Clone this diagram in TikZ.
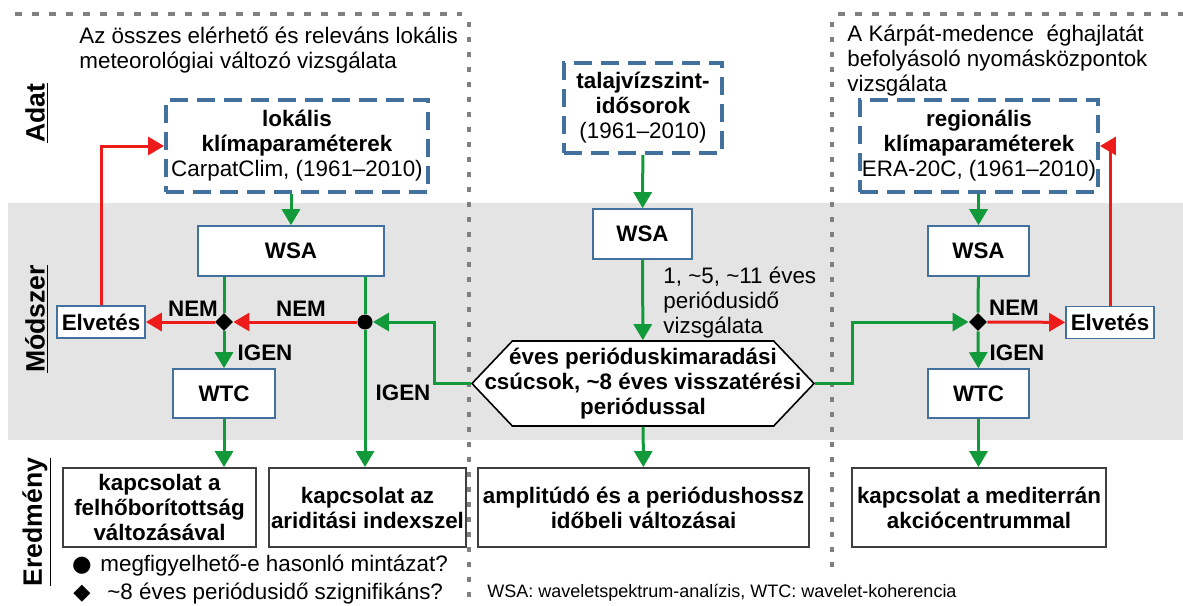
\documentclass[tikz,border=0pt]{standalone}
\usepackage{fontspec}
\setmainfont{Liberation Sans}
\newfontfamily\symfont{DejaVu Sans}
\usetikzlibrary{arrows.meta,positioning,calc,shapes.geometric,shapes.symbols}
\definecolor{steel}{HTML}{41719C}
\definecolor{leafgreen}{HTML}{129A3A}
\definecolor{alarmred}{HTML}{EE1B1B}
\definecolor{bandgrey}{HTML}{E4E4E4}
\definecolor{dotgrey}{HTML}{808080}
\definecolor{inkgrey}{HTML}{3F3F3F}

\begin{document}
\begin{tikzpicture}[x=0.5pt, y=-0.5pt,
  font=\fontsize{11.2}{12.5}\selectfont,
  databox/.style={draw=steel, line width=1.9pt, dash pattern=on 9pt off 4.5pt, fill=white, align=center, inner sep=0pt},
  wsabox/.style={draw=steel, line width=0.8pt, fill=white, font=\fontsize{11.2}{12.5}\selectfont\bfseries, inner sep=0pt},
  rejbox/.style={draw=steel, line width=0.8pt, fill=white, font=\fontsize{11.2}{12.5}\selectfont\bfseries, inner sep=0pt, minimum width=44pt, minimum height=16pt},
  resbox/.style={draw=inkgrey, line width=0.9pt, fill=white, align=center, font=\fontsize{11.2}{12.5}\selectfont\bfseries, inner sep=0pt, minimum height=39.5pt},
  hexa/.style={signal, signal to=west and east, signal pointer angle=93, draw=black, line width=0.8pt, fill=white, minimum width=171pt, minimum height=42.5pt, inner sep=0pt},
  yesno/.style={diamond, fill=black, minimum size=9pt, inner sep=0pt},
  dot/.style={circle, fill=black, minimum size=7.5pt, inner sep=0pt},
  lbl/.style={font=\fontsize{11.2}{12.5}\selectfont\bfseries, inner sep=0pt},
  side/.style={rotate=90, font=\fontsize{13.3}{14}\selectfont\bfseries, inner sep=0pt},
  plain/.style={align=left, inner sep=0pt, anchor=north west},
  divider/.style={dotgrey, line width=1.6pt, dash pattern=on 2.5pt off 5pt},
  gline/.style={leafgreen, line width=1.5pt},
  garr/.style={gline, -{Triangle[length=8pt,width=9pt]}},
  rarr/.style={alarmred, line width=1.5pt, -{Triangle[length=8pt,width=9pt]}}
]
\useasboundingbox (0,0) rectangle (1183,605);
\fill[bandgrey] (8,203) rectangle (1183,440);
\draw[divider, dash pattern=on 3.5pt off 5pt] (15,14) -- (462,14);
\draw[divider] (469,22) -- (469,605);
\draw[divider, dash pattern=on 3.5pt off 5pt] (838,14) -- (1183,14);
\draw[divider] (832,22) -- (832,568);

\node[side] (adat) at (37,113) {\underline{Adat}};
\node[side] (modsz) at (37,319) {\underline{Módszer}};
\node[side] (ered) at (37,522) {\underline{Eredmény}};

\node[plain] (ttl1) at (79,27) {Az összes elérhető és releváns lokális\\meteorológiai változó vizsgálata};
\node[plain] (ttl3) at (847,25) {A Kárpát-medence\ \ éghajlatát\\befolyásoló nyomásközpontok\\vizsgálata};

\node[databox, minimum width=131pt, minimum height=46pt] (lok) at (297,146) {\textbf{lokális}\\\textbf{klímaparaméterek}\\CarpatClim, (1961–2010)};
\node[databox, minimum width=79pt, minimum height=45pt] (talaj) at (643,108) {\textbf{talajvízszint-}\\\textbf{idősorok}\\(1961–2010)};
\node[databox, minimum width=119pt, minimum height=46pt] (reg) at (979,146) {\textbf{regionális}\\\textbf{klímaparaméterek}\\ERA-20C, (1961–2010)};

\node[wsabox, minimum width=93pt, minimum height=25pt] (wsa1) at (291,251) {WSA};
\node[wsabox, minimum width=49.5pt, minimum height=25pt] (wsa2) at (642.5,234) {WSA};
\node[wsabox, minimum width=50.5pt, minimum height=25pt] (wsa3) at (978.5,251) {WSA};

\node[yesno] (dia1) at (224,322) {};
\node[dot] (circ) at (365,322) {};
\node[yesno] (dia3) at (978,322) {};

\node[wsabox, minimum width=51pt, minimum height=24.5pt] (wtc1) at (224,393.5) {WTC};
\node[wsabox, minimum width=50.5pt, minimum height=24.5pt] (wtc3) at (978.5,393.5) {WTC};

\node[rejbox] (elv1) at (101,322) {Elvetés};
\node[rejbox] (elv3) at (1110,322.5) {Elvetés};

\node[hexa] (hex) at (643,383.5) {};
\node[lbl, align=center] (hextxt) at (hex) {éves perióduskimaradási\\csúcsok, \textasciitilde8 éves visszatérési\\periódussal};
\node[plain] (period) at (663,267) {1, \textasciitilde5, \textasciitilde11 éves\\periódusidő\\vizsgálata};

\node[resbox, minimum width=96.5pt] (res1) at (159.5,507.5) {kapcsolat a\\felhőborítottság\\változásával};
\node[resbox, minimum width=98.5pt] (res2) at (367.5,507.5) {kapcsolat az\\ariditási indexszel};
\node[resbox, minimum width=165.5pt] (res3) at (643.5,507.5) {amplitúdó és a periódushossz\\időbeli változásai};
\node[resbox, minimum width=127pt] (res4) at (979,507.5) {kapcsolat a mediterrán\\akciócentrummal};

\node[lbl] (nem1) at (193,309) {NEM};
\node[lbl] (nem2) at (301,309) {NEM};
\node[lbl] (igen1) at (265,353) {IGEN};
\node[lbl] (igen2) at (403,393) {IGEN};
\node[lbl] (nem3) at (1014,308) {NEM};
\node[lbl] (igen3) at (1017,353) {IGEN};

\node[inner sep=0pt, anchor=base] (key1) at (82,571) {\symfont ●};
\node[inner sep=0pt, anchor=base west] (keytxt1) at (100,571) {megfigyelhető-e hasonló mintázat?};
\node[inner sep=0pt, anchor=base] (key2) at (82,599) {\symfont ◆};
\node[inner sep=0pt, anchor=base west] (keytxt2) at (107,599) {\textasciitilde8 éves periódusidő szignifikáns?};
\node[inner sep=0pt, anchor=base west, font=\fontsize{9}{10}\selectfont] (note) at (487,597) {WSA: waveletspektrum-analízis, WTC: wavelet-koherencia};

\draw[garr] (lok.south -| wsa1.north) -- (wsa1.north);
\draw[gline] (wsa1.south -| dia1) -- (dia1);
\draw[gline] (wsa1.south -| circ) -- (circ);
\draw[garr] (dia1) -- (wtc1);
\draw[garr] (circ) -- (circ |- res2.north);
\draw[garr] (wtc1) -- (wtc1.south |- res1.north);
\draw[rarr] (circ) -- (dia1);
\draw[rarr] (dia1) -- (elv1);
\draw[rarr] (elv1.north) |- (lok.west);
\draw[garr] (hex.west) -- ++(-36,0) |- (circ);

\draw[garr] (talaj) -- (wsa2);
\draw[garr] (wsa2) -- (hex);
\draw[garr] (hex) -- (res3);

\draw[garr] (reg.south -| wsa3.north) -- (wsa3.north);
\draw[gline] (wsa3) -- (dia3);
\draw[garr] (dia3) -- (wtc3);
\draw[garr] (wtc3) -- (wtc3.south |- res4.north);
\draw[rarr] (dia3) -- (elv3);
\draw[rarr] (elv3.north) |- (reg.east);
\draw[garr] (hex.east) -- ++(37,0) |- (dia3);
\end{tikzpicture}
\end{document}
